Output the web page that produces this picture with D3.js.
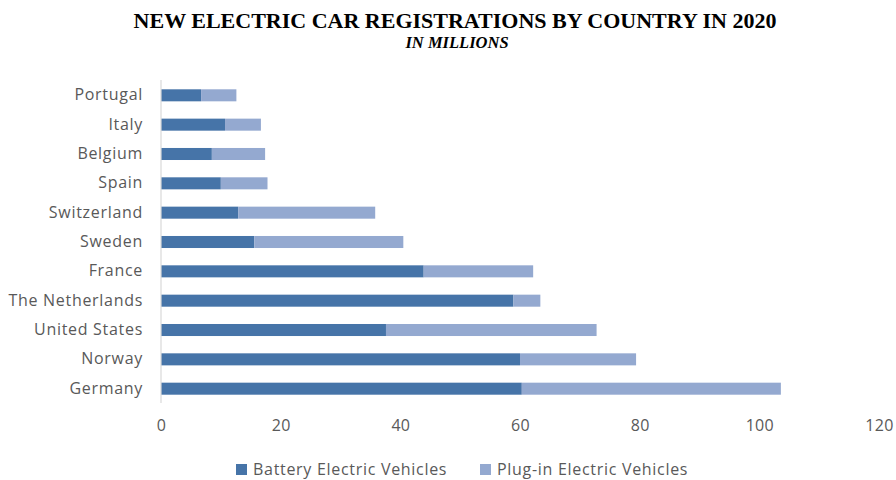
<!DOCTYPE html>
<html>
<head>
<meta charset="utf-8">
<script src="https://cdn.jsdelivr.net/npm/d3@7"></script>
<style>
  html, body { margin: 0; padding: 0; background: #fff; }
  svg { display: block; }
</style>
</head>
<body>
<svg id="chart" width="896" height="480"></svg>
<script>
// Countries, top to bottom
const countries = ["Portugal", "Italy", "Belgium", "Spain", "Switzerland", "Sweden",
  "France", "The Netherlands", "United States", "Norway", "Germany"];
// Battery electric vehicles
const bev = [6.7, 10.7, 8.5, 10.0, 12.9, 15.6, 43.9, 58.9, 37.6, 60.0, 60.3];
// Plug-in electric vehicles (stacked on top of BEV)
const phev = [5.9, 6.0, 8.9, 7.8, 22.9, 24.9, 18.3, 4.5, 35.2, 19.4, 43.3];
const xTicks = [0, 20, 40, 60, 80, 100, 120];
const seriesNames = ["Battery Electric Vehicles", "Plug-in Electric Vehicles"];
const colors = ["#4674a8", "#94a9d0"];

const svg = d3.select("#chart");
const textColor = "#595959";
const font = "'Open Sans', 'Noto Sans', sans-serif";

const x = d3.scaleLinear().domain([0, 120]).range([161, 879]);
const y = d3.scaleBand().domain(countries).range([80.5, 403.5]).paddingInner(0.59).paddingOuter(0.3);

// Title
svg.append("text")
  .attr("x", 455).attr("y", 28)
  .attr("text-anchor", "middle")
  .attr("font-family", "'Liberation Serif', 'Times New Roman', serif")
  .attr("font-weight", "bold").attr("font-size", 22)
  .attr("fill", "#000")
  .text("NEW ELECTRIC CAR REGISTRATIONS BY COUNTRY IN 2020");
svg.append("text")
  .attr("x", 457).attr("y", 48)
  .attr("text-anchor", "middle")
  .attr("font-family", "'Liberation Serif', 'Times New Roman', serif")
  .attr("font-weight", "bold").attr("font-style", "italic").attr("font-size", 16.5)
  .attr("fill", "#000")
  .text("IN MILLIONS");

// Stacked data
const rows = countries.map((c, i) => ({ country: c, bev: bev[i], phev: phev[i] }));
const stack = d3.stack().keys(["bev", "phev"])(rows);

svg.append("g").selectAll("g")
  .data(stack)
  .join("g")
  .attr("fill", (d, i) => colors[i])
  .selectAll("rect")
  .data(d => d)
  .join("rect")
  .attr("x", d => x(d[0]))
  .attr("width", d => x(d[1]) - x(d[0]))
  .attr("y", d => y(d.data.country))
  .attr("height", y.bandwidth());

// Vertical category axis line
svg.append("line")
  .attr("x1", 161).attr("x2", 161)
  .attr("y1", 80).attr("y2", 403)
  .attr("stroke", "#d9d9d9").attr("stroke-width", 1.2);

// Category labels
const yAxis = svg.append("g")
  .attr("transform", "translate(161,0)")
  .call(d3.axisLeft(y).tickSize(0).tickPadding(18));
yAxis.select(".domain").remove();
yAxis.selectAll("text")
  .attr("font-family", font).attr("font-size", 16)
  .attr("fill", textColor).attr("letter-spacing", "0.7px");

// Value axis labels
const xAxis = svg.append("g")
  .attr("transform", "translate(0,418)")
  .call(d3.axisBottom(x).tickValues(xTicks).tickSize(0).tickPadding(2));
xAxis.select(".domain").remove();
xAxis.selectAll("text")
  .attr("font-family", font).attr("font-size", 16)
  .attr("fill", textColor).attr("letter-spacing", "0.3px");

// Legend
const legendX = [236, 480];
const legend = svg.append("g");
seriesNames.forEach((name, i) => {
  legend.append("rect")
    .attr("x", legendX[i]).attr("y", 464)
    .attr("width", 11).attr("height", 11)
    .attr("fill", colors[i]);
  legend.append("text")
    .attr("x", legendX[i] + 17).attr("y", 475)
    .attr("font-family", font).attr("font-size", 16)
    .attr("fill", textColor).attr("letter-spacing", "0.7px")
    .text(name);
});
</script>
</body>
</html>
